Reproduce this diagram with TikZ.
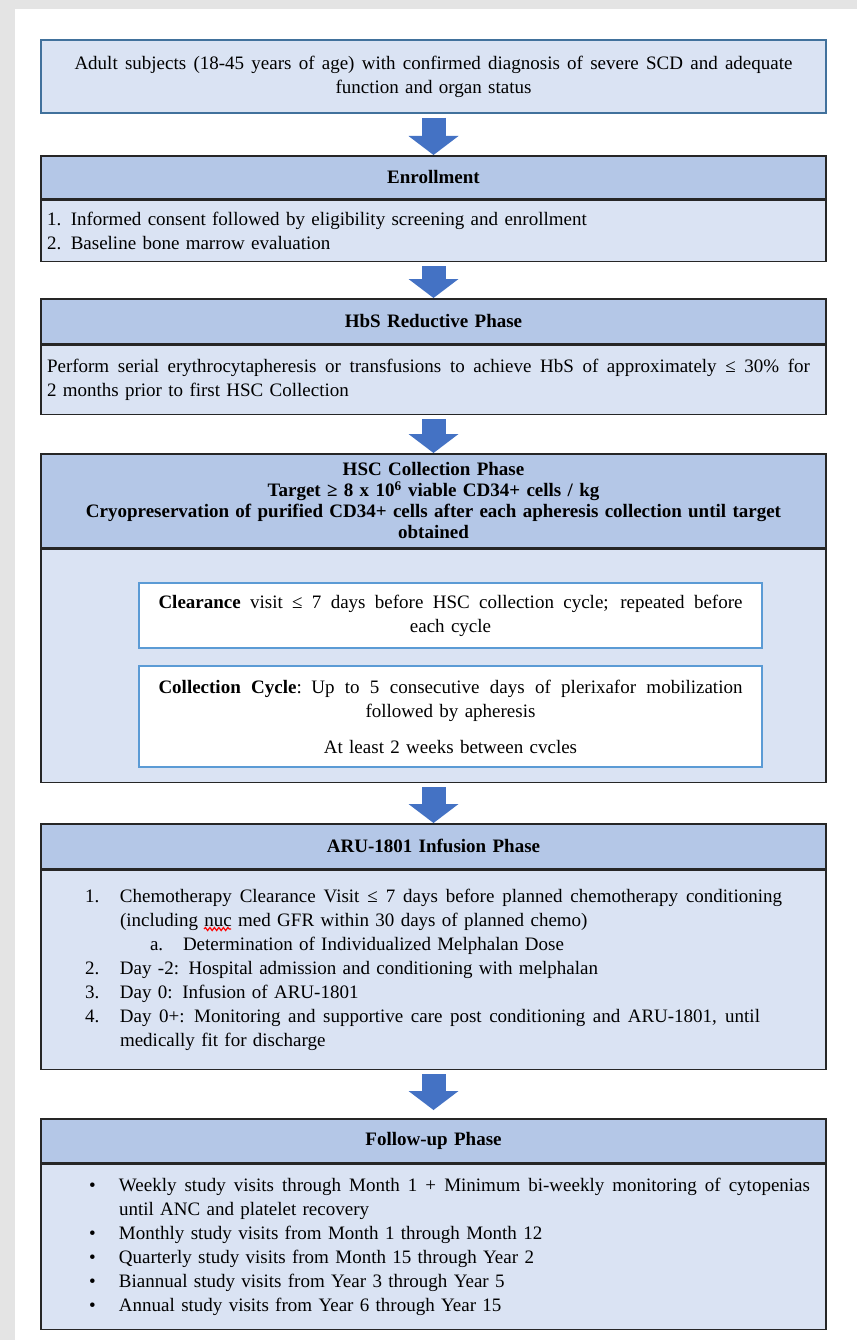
\documentclass[tikz,border=0pt]{standalone}
\usepackage{fontspec}
\setmainfont{Liberation Serif}
\usetikzlibrary{arrows.meta, positioning, decorations.pathmorphing}
\definecolor{cpale}{HTML}{DAE3F3}
\definecolor{chead}{HTML}{B4C7E7}
\definecolor{cedge}{HTML}{41719C}
\definecolor{cinner}{HTML}{5B9BD5}
\definecolor{carrow}{HTML}{4472C4}
\definecolor{cdark}{HTML}{262626}
\definecolor{cshade}{HTML}{E4E4E4}
\newcommand{\spreadline}[2]{\makebox[#1][s]{\spaceskip=0.25em plus 1fil\relax #2}}
\newcommand{\numline}[2]{\hspace*{38pt}\makebox[35pt][l]{#1}#2}
\newcommand{\bulletline}[1]{\hspace*{42pt}\makebox[30pt][l]{\textbullet}#1}
\tikzset{
  every picture/.style={x=1pt, y=-1pt, line width=1.2pt},
  every node/.style={font=\fontsize{19}{24}\selectfont},
  phase/.style={draw=cdark, line width=1.6pt, inner xsep=6pt, inner ysep=0pt, text width=773pt},
  topbox/.style={phase, draw=cedge, fill=cpale, align=center},
  headbox/.style={phase, fill=chead, align=center, font=\fontsize{19}{21}\selectfont\bfseries},
  bodybox/.style={phase, fill=cpale, align=left},
  innerbox/.style={draw=cinner, fill=white, line width=1.4pt, inner sep=0pt, text width=601pt, minimum width=623pt, align=center},
  blockarrow/.style={draw=carrow, line width=24pt, -{Triangle[width=50pt, length=19pt, line width=0pt]}, shorten <=4pt},
  spellmark/.style={red, line width=1.2pt, decorate, decoration={snake, amplitude=1.5pt, segment length=4.5pt}},
}
\begin{document}
\begin{tikzpicture}
  \useasboundingbox (0,0) rectangle (857,1340);
  % page and its shadow
  \fill[cshade] (0,0) rectangle (857,1340);
  \fill[white] (15,9) rectangle (857,1340);

  % eligibility
  \node[topbox, minimum height=73pt] (subjects) at (433.5,76.5)
    {\spreadline{718pt}{Adult subjects (18-45 years of age) with confirmed diagnosis of severe SCD and adequate}\\function and organ status};

  % enrollment
  \node[headbox, minimum height=43pt, anchor=north] (enrollHead) at (433.5,155) {Enrollment};
  \node[bodybox, minimum height=61pt, below=0pt of enrollHead] (enrollBody)
    {1. Informed consent followed by eligibility screening and enrollment\\2. Baseline bone marrow evaluation};

  % HbS reduction
  \node[headbox, minimum height=45pt, anchor=north] (hbsHead) at (433.5,298) {HbS Reductive Phase};
  \node[bodybox, minimum height=69pt, below=0pt of hbsHead] (hbsBody)
    {\spreadline{763pt}{Perform serial erythrocytapheresis or transfusions to achieve HbS of approximately ≤ 30\% for}\\2 months prior to first HSC Collection};

  % HSC collection
  \node[headbox, minimum height=94pt, anchor=north] (hscHead) at (433.5,453)
    {HSC Collection Phase\\Target ≥ 8 x 10\textsuperscript{6} viable CD34+ cells / kg\\Cryopreservation of purified CD34+ cells after each apheresis collection until target\\obtained};
  \node[bodybox, minimum height=233pt, below=0pt of hscHead] (hscBody) {};
  \node[innerbox, minimum height=65pt] (clearance) at (450.5,615.5)
    {\spreadline{584pt}{\textbf{Clearance} visit ≤ 7 days before HSC collection cycle; repeated before}\\each cycle};
  \node[innerbox, minimum height=101pt] (cycle) at (450.5,716.5)
    {\spreadline{584pt}{\textbf{Collection Cycle}: Up to 5 consecutive days of plerixafor mobilization}\\followed by apheresis\\[12pt]At least 2 weeks between cvcles};

  % infusion
  \node[headbox, minimum height=45pt, anchor=north] (aruHead) at (433.5,823) {ARU-1801 Infusion Phase};
  \node[bodybox, minimum height=199pt, below=0pt of aruHead] (aruBody)
    {\numline{1.}{\spreadline{662pt}{Chemotherapy Clearance Visit ≤ 7 days before planned chemotherapy conditioning}}\\
     \hspace*{73pt}(including nuc med GFR within 30 days of planned chemo)\\
     \hspace*{103pt}\makebox[33pt][l]{a.}Determination of Individualized Melphalan Dose\\
     \numline{2.}{Day -2: Hospital admission and conditioning with melphalan}\\
     \numline{3.}{Day 0: Infusion of ARU-1801}\\
     \numline{4.}{\spreadline{640pt}{Day 0+: Monitoring and supportive care post conditioning and ARU-1801, until}}\\
     \hspace*{73pt}medically fit for discharge};
  % spell-check mark under "nuc"
  \draw[spellmark] (204,929) -- (231,929);

  % follow-up
  \node[headbox, minimum height=44pt, anchor=north] (followHead) at (433.5,1118) {Follow-up Phase};
  \node[bodybox, minimum height=165pt, below=0pt of followHead] (followBody)
    {\bulletline{\spreadline{691pt}{Weekly study visits through Month 1 + Minimum bi-weekly monitoring of cytopenias}}\\
     \hspace*{72pt}until ANC and platelet recovery\\
     \bulletline{Monthly study visits from Month 1 through Month 12}\\
     \bulletline{Quarterly study visits from Month 15 through Year 2}\\
     \bulletline{Biannual study visits from Year 3 through Year 5}\\
     \bulletline{Annual study visits from Year 6 through Year 15}};

  % flow
  \draw[blockarrow] (subjects.south) -- (enrollHead.north);
  \draw[blockarrow] (enrollBody.south) -- (hbsHead.north);
  \draw[blockarrow] (hbsBody.south) -- (hscHead.north);
  \draw[blockarrow] (hscBody.south) -- (aruHead.north);
  \draw[blockarrow, shorten >=8pt] (aruBody.south) -- (followHead.north);
\end{tikzpicture}
\end{document}
